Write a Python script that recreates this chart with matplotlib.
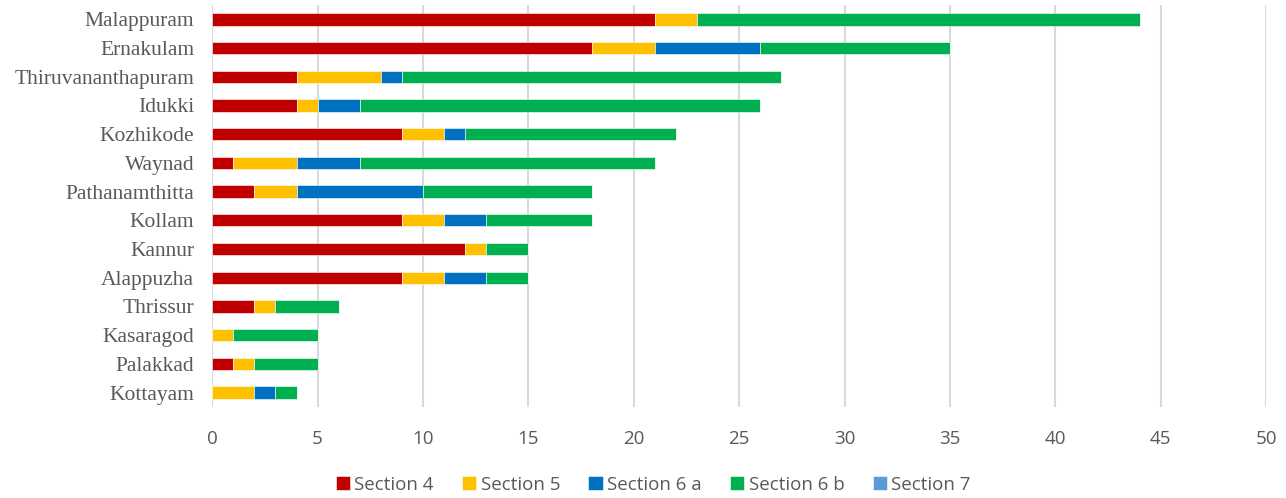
import matplotlib.pyplot as plt
import numpy as np

# ---------------- data ----------------
districts = ["Malappuram", "Ernakulam", "Thiruvananthapuram", "Idukki", "Kozhikode",
             "Waynad", "Pathanamthitta", "Kollam", "Kannur", "Alappuzha",
             "Thrissur", "Kasaragod", "Palakkad", "Kottayam"]
section4 = [21, 18, 4, 4, 9, 1, 2, 9, 12, 9, 2, 0, 1, 0]
section5 = [2, 3, 4, 1, 2, 3, 2, 2, 1, 2, 1, 1, 1, 2]
section6a = [0, 5, 1, 2, 1, 3, 6, 2, 0, 2, 0, 0, 0, 1]
section6b = [21, 9, 18, 19, 10, 14, 8, 5, 2, 2, 3, 4, 3, 1]
section7 = [0, 0, 0, 0, 0, 0, 0, 0, 0, 0, 0, 0, 0, 0]

series = [("Section 4", section4, "#C00000"),
          ("Section 5", section5, "#FFC000"),
          ("Section 6 a", section6a, "#0070C0"),
          ("Section 6 b", section6b, "#00B050"),
          ("Section 7", section7, "#5B9BD5")]

fig = plt.figure(figsize=(12.86, 4.98), dpi=100)
ax = fig.add_axes([0.165, 0.183, 0.8195, 0.807])

y = np.arange(len(districts))
left = np.zeros(len(districts))
for name, vals, col in series:
    ax.barh(y, vals, left=left, height=0.43, color=col, label=name,
            edgecolor="white", linewidth=0.4, zorder=3)
    left += np.array(vals)

ax.set_ylim(len(districts) - 0.5, -0.5)
ax.set_yticks(y)
ax.set_yticklabels(districts, family="Liberation Serif", fontsize=15.5, color="#595959")
ax.set_xlim(0, 50)
ax.set_xticks(np.arange(0, 51, 5))
for lab in ax.get_xticklabels():
    lab.set_family("Open Sans")
    lab.set_fontsize(13.5)
    lab.set_color("#595959")
ax.tick_params(axis="both", length=0)
ax.tick_params(axis="x", pad=17)
ax.tick_params(axis="y", pad=13)
ax.grid(axis="x", color="#D9D9D9", linewidth=1.5, zorder=0)
for s in ax.spines.values():
    s.set_visible(False)

leg = fig.legend(loc="lower center", bbox_to_anchor=(0.508, -0.025), ncol=5, frameon=False,
                 handlelength=0.75, handleheight=0.75, handletextpad=0.25, columnspacing=1.5,
                 prop={"family": "Open Sans", "size": 13.5})
for t in leg.get_texts():
    t.set_color("#595959")

fig.savefig("out.png", dpi=100)
